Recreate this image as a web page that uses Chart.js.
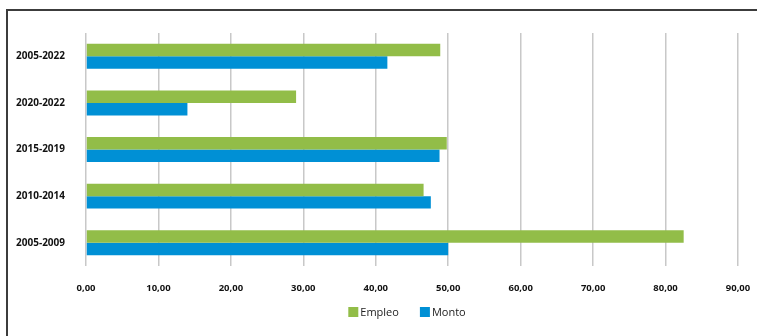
<!DOCTYPE html>
<html>
<head>
<meta charset="utf-8">
<script src="https://cdn.jsdelivr.net/npm/chart.js@4"></script>
<style>
  html, body { margin: 0; padding: 0; background: #fff; }
  #wrap { position: relative; width: 757px; height: 336px; }
  canvas { display: block; }
</style>
</head>
<body>
<div id="wrap"><canvas id="chart" width="757" height="336"></canvas></div>
<script>
// Periods, top to bottom
const periods = ['2005-2022', '2020-2022', '2015-2019', '2010-2014', '2005-2009'];
// Share per period
const empleo = [48.9, 29.0, 49.8, 46.6, 82.5];
const monto  = [41.6, 14.0, 48.8, 47.6, 50.0];
// Axis range and step
const axisMin = 0;
const axisMax = 90;
const axisStep = 10;

const GREEN = '#92BD48';
const BLUE = '#0090D5';
const FONT = '"Open Sans", sans-serif';

// Dark frame along the top and left edges
const framePlugin = {
  id: 'frame',
  afterDraw(chart) {
    const ctx = chart.ctx;
    ctx.save();
    ctx.strokeStyle = '#3c3c3c';
    ctx.lineWidth = 2;
    ctx.beginPath();
    ctx.moveTo(7, 340);
    ctx.lineTo(7, 10);
    ctx.lineTo(760, 10);
    ctx.stroke();
    ctx.restore();
  }
};

// Legend under the plot area
const legendPlugin = {
  id: 'plotLegend',
  afterDraw(chart) {
    const ctx = chart.ctx;
    const area = chart.chartArea;
    const box = 10, gapText = 2, gapItem = 21;
    const y = 312;
    ctx.save();
    ctx.font = '11px ' + FONT;
    ctx.textBaseline = 'middle';
    const items = chart.data.datasets.map(ds => ({
      label: ds.label, color: ds.backgroundColor,
      w: box + gapText + ctx.measureText(ds.label).width
    }));
    const total = items.reduce((s, it) => s + it.w, 0) + gapItem * (items.length - 1);
    let x = (area.left + area.right) / 2 - total / 2 - 5;
    items.forEach(it => {
      ctx.fillStyle = it.color;
      ctx.fillRect(x, y - box / 2, box, box);
      ctx.fillStyle = '#222';
      ctx.fillText(it.label, x + box + gapText, y + 0.5);
      x += it.w + gapItem;
    });
    ctx.restore();
  }
};

new Chart(document.getElementById('chart'), {
  type: 'bar',
  data: {
    labels: periods,
    datasets: [
      { label: 'Empleo', data: empleo, backgroundColor: GREEN, borderWidth: 0,
        barPercentage: 1, categoryPercentage: 0.534 },
      { label: 'Monto', data: monto, backgroundColor: BLUE, borderWidth: 0,
        barPercentage: 1, categoryPercentage: 0.534 }
    ]
  },
  options: {
    indexAxis: 'y',
    responsive: false,
    animation: false,
    layout: { padding: { top: 33, right: 19, left: 0, bottom: 25.5 } },
    plugins: {
      tooltip: { enabled: false },
      legend: { display: false }
    },
    scales: {
      x: {
        min: axisMin,
        max: axisMax,
        ticks: {
          stepSize: axisStep,
          color: '#111',
          padding: 16.5,
          font: { family: FONT, size: 9.5, weight: 'bold' },
          callback: v => v.toFixed(2).replace('.', ',')
        },
        grid: { color: '#c8c8c8', lineWidth: 1.5, drawTicks: false },
        border: { display: false },
        afterFit(scale) { scale.paddingLeft = 0; scale.paddingRight = 0; }
      },
      y: {
        ticks: {
          color: '#111',
          padding: 21,
          font: { family: FONT, size: 10, weight: 'bold' }
        },
        grid: { display: false, drawTicks: false },
        border: { display: false },
        afterFit(scale) { scale.width = 86; }
      }
    }
  },
  plugins: [framePlugin, legendPlugin]
});
</script>
</body>
</html>
